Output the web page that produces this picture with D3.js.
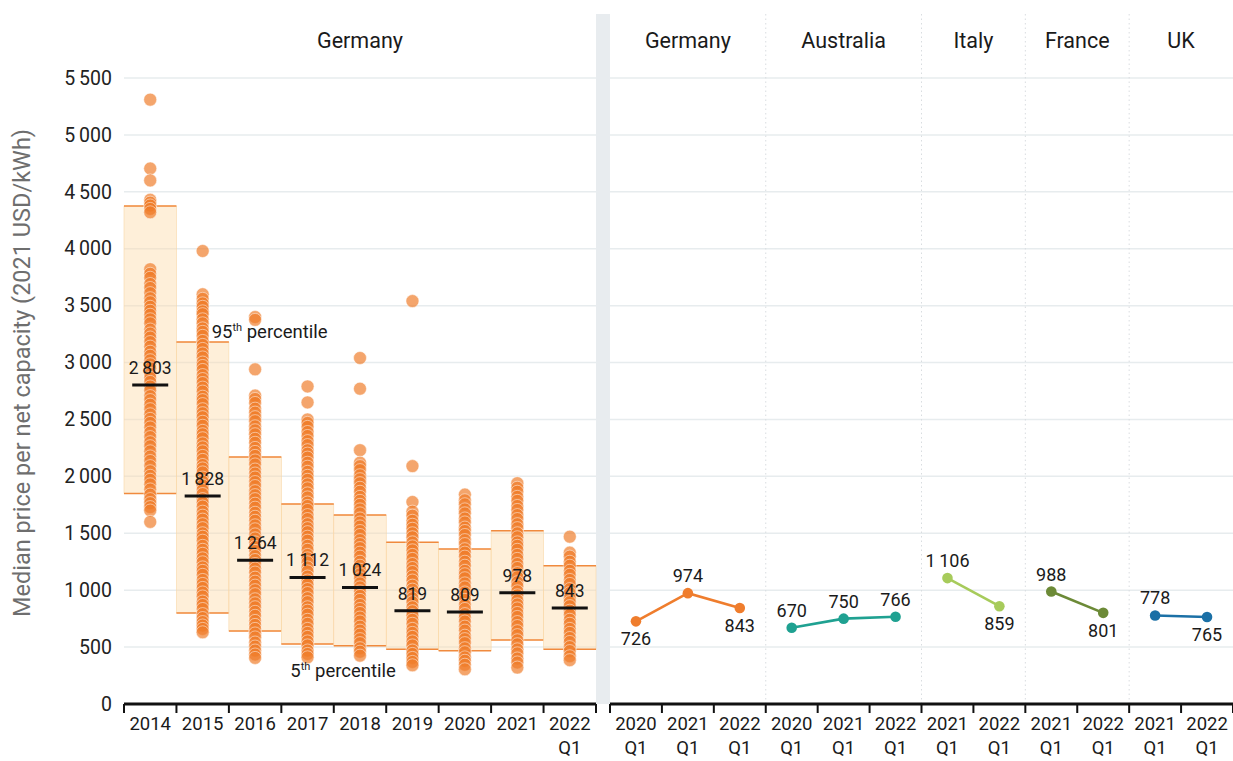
<!DOCTYPE html>
<html>
<head>
<meta charset="utf-8">
<script src="https://cdn.jsdelivr.net/npm/d3@7"></script>
<style>
  html, body { margin: 0; padding: 0; background: #fff; }
  svg { display: block; font-family: Roboto, "Noto Sans", sans-serif; }
</style>
</head>
<body>
<svg id="chart" width="1233" height="761"></svg>
<script>
// ---------------- DATA ----------------
const years = ["2014", "2015", "2016", "2017", "2018", "2019", "2020", "2021", "2022 Q1"];
const medians = [2803, 1828, 1264, 1112, 1024, 819, 809, 978, 843];
const p95 = [4375, 3180, 2170, 1757, 1660, 1421, 1362, 1523, 1215];
const p5 = [1850, 800, 641, 527, 511, 480, 468, 562, 480];

const dots2014 = [5310, 4705, 4600, 4430, 4405, 4380, 4350, 4320, 3820, 3780, 3745, 3690, 3655, 3610, 3565, 3530, 3490, 3455, 3420, 3380, 3345, 3290, 3255, 3220, 3180, 3140, 3095, 3060, 3020, 2985, 2950, 2900, 2865, 2830, 2790, 2755, 2705, 2670, 2630, 2590, 2545, 2505, 2470, 2430, 2385, 2345, 2300, 2265, 2220, 2175, 2135, 2090, 2045, 2005, 1970, 1930, 1885, 1840, 1800, 1765, 1730, 1700, 1600];
const dots2015 = [3980, 3600, 3560, 3520, 3490, 3450, 3425, 3380, 3345, 3300, 3270, 3235, 3190, 3155, 3120, 3080, 3045, 3000, 2970, 2935, 2890, 2855, 2820, 2780, 2745, 2700, 2670, 2635, 2590, 2555, 2520, 2480, 2445, 2400, 2370, 2335, 2290, 2255, 2220, 2180, 2145, 2100, 2070, 2035, 1990, 1955, 1920, 1880, 1845, 1800, 1770, 1735, 1690, 1655, 1620, 1580, 1545, 1500, 1470, 1435, 1390, 1355, 1320, 1280, 1245, 1200, 1170, 1135, 1090, 1055, 1020, 980, 945, 900, 870, 835, 790, 755, 720, 690, 660, 630];
const dots2016 = [3400, 3375, 2940, 2710, 2680, 2645, 2595, 2560, 2520, 2485, 2440, 2405, 2370, 2330, 2295, 2250, 2215, 2180, 2140, 2105, 2060, 2025, 1990, 1950, 1915, 1870, 1835, 1800, 1760, 1725, 1680, 1645, 1610, 1570, 1535, 1490, 1455, 1420, 1380, 1345, 1300, 1265, 1230, 1190, 1155, 1110, 1075, 1040, 1000, 965, 920, 885, 850, 810, 775, 730, 695, 660, 620, 585, 540, 505, 470, 435, 405];
const dots2017 = [2790, 2650, 2500, 2470, 2435, 2390, 2355, 2310, 2275, 2230, 2200, 2165, 2120, 2085, 2040, 2005, 1970, 1930, 1895, 1850, 1815, 1770, 1740, 1705, 1660, 1625, 1580, 1545, 1510, 1470, 1435, 1390, 1355, 1310, 1280, 1245, 1200, 1165, 1120, 1085, 1050, 1010, 975, 930, 895, 850, 820, 785, 740, 705, 660, 625, 590, 550, 515, 470, 440, 410];
const dots2018 = [3040, 2770, 2230, 2120, 2090, 2055, 2010, 1975, 1940, 1900, 1865, 1820, 1785, 1750, 1710, 1675, 1630, 1595, 1560, 1520, 1485, 1440, 1405, 1370, 1330, 1295, 1250, 1215, 1180, 1140, 1105, 1060, 1025, 990, 950, 915, 870, 835, 800, 760, 725, 680, 645, 610, 570, 535, 490, 460, 425];
const dots2019 = [3540, 2090, 1775, 1690, 1655, 1610, 1575, 1540, 1500, 1465, 1420, 1385, 1350, 1310, 1275, 1230, 1195, 1160, 1120, 1085, 1040, 1005, 970, 930, 895, 850, 815, 780, 740, 705, 660, 625, 590, 550, 515, 470, 440, 405, 370, 340];
const dots2020 = [1840, 1790, 1755, 1710, 1675, 1630, 1595, 1550, 1520, 1485, 1440, 1405, 1360, 1330, 1295, 1250, 1215, 1170, 1140, 1105, 1060, 1025, 980, 950, 915, 870, 835, 790, 760, 725, 680, 645, 600, 570, 535, 490, 455, 410, 380, 345, 305];
const dots2021 = [1940, 1900, 1865, 1820, 1785, 1740, 1705, 1660, 1625, 1580, 1545, 1500, 1465, 1420, 1390, 1355, 1310, 1275, 1230, 1195, 1150, 1115, 1070, 1035, 990, 955, 910, 875, 840, 800, 765, 720, 685, 640, 605, 560, 525, 480, 445, 400, 365, 320];
const dots2022 = [1470, 1330, 1295, 1250, 1215, 1170, 1135, 1090, 1055, 1010, 975, 930, 895, 860, 820, 785, 740, 705, 660, 625, 580, 545, 500, 465, 420, 385];
const dotsByYear = [dots2014, dots2015, dots2016, dots2017, dots2018, dots2019, dots2020, dots2021, dots2022];

const yTicks = [0, 500, 1000, 1500, 2000, 2500, 3000, 3500, 4000, 4500, 5000, 5500];

const countries = ["Germany", "Australia", "Italy", "France", "UK"];
const germanyPeriods = ["2020 Q1", "2021 Q1", "2022 Q1"];
const germanyValues = [726, 974, 843];
const australiaPeriods = ["2020 Q1", "2021 Q1", "2022 Q1"];
const australiaValues = [670, 750, 766];
const italyPeriods = ["2021 Q1", "2022 Q1"];
const italyValues = [1106, 859];
const francePeriods = ["2021 Q1", "2022 Q1"];
const franceValues = [988, 801];
const ukPeriods = ["2021 Q1", "2022 Q1"];
const ukValues = [778, 765];

// ---------------- STYLE / LAYOUT ----------------
const countryStyle = {
  Germany:   { color: "#ef7d2d", labels: ["below", "above", "below"] },
  Australia: { color: "#1fa191", labels: ["above", "above", "above"] },
  Italy:     { color: "#a7cb5b", labels: ["above", "below"] },
  France:    { color: "#6c8a37", labels: ["above", "below"] },
  UK:        { color: "#1b70a6", labels: ["above", "below"] }
};
const series = [
  { country: "Germany", periods: germanyPeriods, values: germanyValues },
  { country: "Australia", periods: australiaPeriods, values: australiaValues },
  { country: "Italy", periods: italyPeriods, values: italyValues },
  { country: "France", periods: francePeriods, values: franceValues },
  { country: "UK", periods: ukPeriods, values: ukValues }
];

const svg = d3.select("#chart");
const yTop = 78, yBottom = 704, panelTop = 14;
const leftX0 = 124, leftX1 = 596, sepX1 = 610, rightX1 = 1233;

const fmt = d3.formatLocale({ decimal: ".", thousands: "\u2009", grouping: [3], currency: ["", ""] }).format(",d");

const y = d3.scaleLinear().domain([0, 5500]).range([yBottom, yTop]);
const xL = d3.scaleBand().domain(years).range([leftX0, leftX1]).padding(0);
const rightKeys = [];
series.forEach(s => s.periods.forEach(p => rightKeys.push(s.country + "|" + p)));
const xR = d3.scaleBand().domain(rightKeys).range([sepX1, rightX1]).padding(0);

// gridlines
const grid = svg.append("g");
[[leftX0, leftX1], [sepX1, rightX1]].forEach(([a, b]) => {
  grid.selectAll(null).data(yTicks.filter(t => t > 0)).enter().append("line")
    .attr("x1", a).attr("x2", b)
    .attr("y1", d => y(d)).attr("y2", d => y(d))
    .attr("stroke", "#e7ecee").attr("stroke-width", 1.5);
});

// separator
svg.append("rect").attr("x", leftX1).attr("y", panelTop)
  .attr("width", sepX1 - leftX1).attr("height", yBottom - panelTop)
  .attr("fill", "#e8ecef");

// dotted country separators
series.slice(1).forEach(s => {
  const x = xR(s.country + "|" + s.periods[0]);
  svg.append("line").attr("x1", x).attr("x2", x).attr("y1", panelTop).attr("y2", yBottom)
    .attr("stroke", "#d9dde0").attr("stroke-width", 1).attr("stroke-dasharray", "1.5,3");
});

// percentile boxes
const boxes = svg.append("g");
years.forEach((yr, i) => {
  const x0 = xL(yr), w = xL.bandwidth();
  boxes.append("rect").attr("x", x0).attr("y", y(p95[i]))
    .attr("width", w).attr("height", y(p5[i]) - y(p95[i]))
    .attr("fill", "#fcdcaa").attr("fill-opacity", 0.45)
    .attr("stroke", "#f9d7a8").attr("stroke-width", 0.6);
  [p95[i], p5[i]].forEach(v => {
    boxes.append("line").attr("x1", x0).attr("x2", x0 + w)
      .attr("y1", y(v)).attr("y2", y(v))
      .attr("stroke", "#f08a3e").attr("stroke-width", 1.5);
  });
});

// dots
const dotG = svg.append("g");
years.forEach((yr, i) => {
  const cx = xL(yr) + xL.bandwidth() / 2;
  dotG.selectAll(null).data(dotsByYear[i]).enter().append("circle")
    .attr("cx", cx).attr("cy", d => y(d)).attr("r", 6.5)
    .attr("fill", "#ef7a26").attr("fill-opacity", 0.68)
    .attr("stroke", "#ffffff").attr("stroke-opacity", 0.55).attr("stroke-width", 0.9);
});

// medians
years.forEach((yr, i) => {
  const cx = xL(yr) + xL.bandwidth() / 2;
  svg.append("line").attr("x1", cx - 18).attr("x2", cx + 18)
    .attr("y1", y(medians[i])).attr("y2", y(medians[i]))
    .attr("stroke", "#111").attr("stroke-width", 3);
  svg.append("text").attr("x", cx).attr("y", y(medians[i]) - 11)
    .attr("text-anchor", "middle").attr("font-size", 17.5).attr("fill", "#1a1a1a")
    .text(fmt(medians[i]));
});

// percentile annotations
const a95 = svg.append("text").attr("x", xL("2015") + xL.bandwidth() / 2 + 9).attr("y", y(p95[1]) - 4)
  .attr("font-size", 18.5).attr("fill", "#1a1a1a");
a95.append("tspan").text("95");
a95.append("tspan").attr("font-size", 11).attr("dy", -7).text("th");
a95.append("tspan").attr("dy", 7).text(" percentile");

const a5 = svg.append("text").attr("x", xL("2017") + 9).attr("y", y(p5[3]) + 33)
  .attr("font-size", 18.5).attr("fill", "#1a1a1a");
a5.append("tspan").text("5");
a5.append("tspan").attr("font-size", 11).attr("dy", -7).text("th");
a5.append("tspan").attr("dy", 7).text(" percentile");

// right panel lines
series.forEach(s => {
  const st = countryStyle[s.country];
  const pts = s.periods.map((p, i) => [xR(s.country + "|" + p) + xR.bandwidth() / 2, y(s.values[i])]);
  svg.append("path").attr("d", d3.line()(pts)).attr("fill", "none")
    .attr("stroke", st.color).attr("stroke-width", 2.6);
  svg.selectAll(null).data(pts).enter().append("circle")
    .attr("cx", d => d[0]).attr("cy", d => d[1]).attr("r", 5.3).attr("fill", st.color);
  pts.forEach((pt, i) => {
    const below = st.labels[i] === "below";
    svg.append("text").attr("x", pt[0]).attr("y", below ? pt[1] + 24 : pt[1] - 11)
      .attr("text-anchor", "middle").attr("font-size", 18).attr("fill", "#1a1a1a")
      .text(fmt(s.values[i]));
  });
});

// panel titles
svg.append("text").attr("x", (leftX0 + leftX1) / 2).attr("y", 48)
  .attr("text-anchor", "middle").attr("font-size", 21.5).attr("fill", "#1a1a1a").text("Germany");
series.forEach(s => {
  const a = xR(s.country + "|" + s.periods[0]);
  const b = xR(s.country + "|" + s.periods[s.periods.length - 1]) + xR.bandwidth();
  svg.append("text").attr("x", (a + b) / 2).attr("y", 48)
    .attr("text-anchor", "middle").attr("font-size", 21.5).attr("fill", "#1a1a1a").text(s.country);
});

// y axis
const yAxis = svg.append("g").attr("transform", `translate(${leftX0 - 12},0)`)
  .call(d3.axisLeft(y).tickValues(yTicks).tickSize(0).tickPadding(0).tickFormat(fmt));
yAxis.select(".domain").remove();
yAxis.selectAll("text").attr("font-size", 19.5).attr("fill", "#222").attr("font-family", "Roboto");

svg.append("text")
  .attr("transform", `translate(30,373) rotate(-90)`)
  .attr("text-anchor", "middle").attr("font-size", 23.5).attr("fill", "#6e6e6e")
  .text("Median price per net capacity (2021 USD/kWh)");

// x axes
function drawXAxis(scale, labelFn) {
  const dom = scale.domain();
  const g = svg.append("g");
  const r = scale.range();
  g.append("line").attr("x1", r[0]).attr("x2", r[1]).attr("y1", yBottom).attr("y2", yBottom)
    .attr("stroke", "#111").attr("stroke-width", 3);
  const bounds = dom.map(d => scale(d)).concat([r[1]]);
  g.selectAll(null).data(bounds).enter().append("line")
    .attr("x1", d => d).attr("x2", d => d).attr("y1", yBottom).attr("y2", yBottom + 9)
    .attr("stroke", "#111").attr("stroke-width", 2);
  dom.forEach(d => {
    const parts = labelFn(d).split(" ");
    const t = g.append("text").attr("x", scale(d) + scale.bandwidth() / 2).attr("y", 730)
      .attr("text-anchor", "middle").attr("font-size", 18.5).attr("fill", "#1a1a1a");
    parts.forEach((p, k) => t.append("tspan").attr("x", scale(d) + scale.bandwidth() / 2)
      .attr("dy", k === 0 ? 0 : 24).text(p));
  });
}
drawXAxis(xL, d => d);
drawXAxis(xR, d => d.split("|")[1]);
</script>
</body>
</html>
